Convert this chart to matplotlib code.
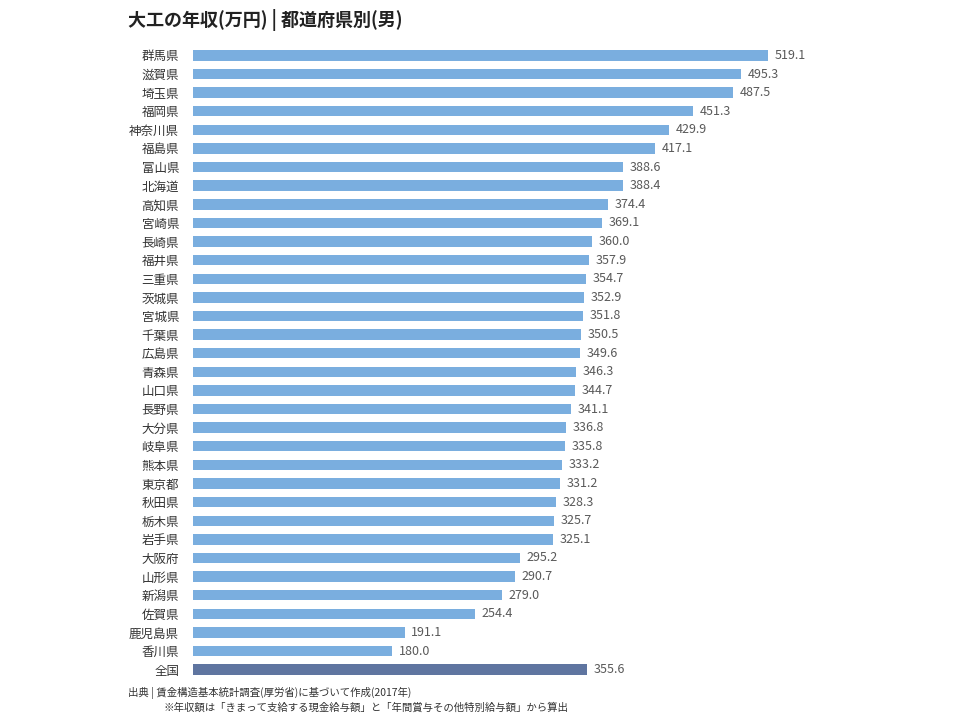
import matplotlib.pyplot as plt

plt.rcParams["font.family"] = "Noto Sans CJK JP"

prefectures = ["群馬県", "滋賀県", "埼玉県", "福岡県", "神奈川県", "福島県", "富山県", "北海道",
               "高知県", "宮崎県", "長崎県", "福井県", "三重県", "茨城県", "宮城県", "千葉県",
               "広島県", "青森県", "山口県", "長野県", "大分県", "岐阜県", "熊本県", "東京都",
               "秋田県", "栃木県", "岩手県", "大阪府", "山形県", "新潟県", "佐賀県", "鹿児島県",
               "香川県", "全国"]
incomes = [519.1, 495.3, 487.5, 451.3, 429.9, 417.1, 388.6, 388.4,
           374.4, 369.1, 360.0, 357.9, 354.7, 352.9, 351.8, 350.5,
           349.6, 346.3, 344.7, 341.1, 336.8, 335.8, 333.2, 331.2,
           328.3, 325.7, 325.1, 295.2, 290.7, 279.0, 254.4, 191.1,
           180.0, 355.6]

fig = plt.figure(figsize=(9.6, 7.2), dpi=100)
ax = fig.add_axes([0.201, 0.057, 0.699, 0.879])

colors = ["#7aaedf"] * (len(incomes) - 1) + ["#5f75a0"]
pos = list(range(len(incomes)))
ax.barh(pos, incomes, height=0.56, color=colors)
for p, v in zip(pos, incomes):
    ax.text(v + 6, p, f"{v:.1f}", va="center", ha="left", fontsize=9, color="#595959")

ax.set_yticks(pos)
ax.set_yticklabels(prefectures, fontsize=9, color="#333333")
ax.set_ylim(len(incomes) - 0.5, -0.5)
ax.set_xlim(0, 606)
ax.set_xticks([])
ax.tick_params(axis="y", length=0, pad=10)
for s in ax.spines.values():
    s.set_visible(False)

fig.text(0.133, 0.972, "大工の年収(万円) | 都道府県別(男)", fontsize=13, fontweight="bold",
         va="center", ha="left", color="#222222")
fig.text(0.133, 0.037, "出典 | 賃金構造基本統計調査(厚労省)に基づいて作成(2017年)", fontsize=7.5,
         va="center", ha="left", color="#333333")
fig.text(0.17, 0.017, "※年収額は「きまって支給する現金給与額」と「年間賞与その他特別給与額」から算出",
         fontsize=7.5, va="center", ha="left", color="#333333")

fig.savefig("out.png", dpi=100)
